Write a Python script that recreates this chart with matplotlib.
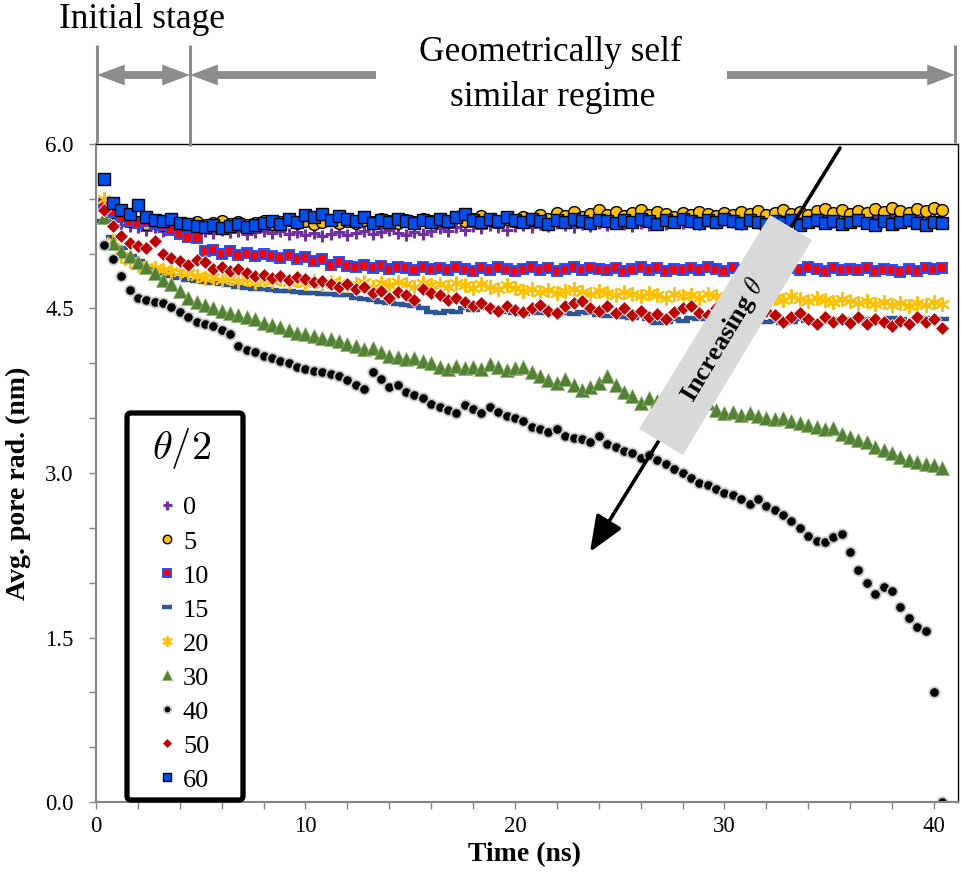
import numpy as np
import matplotlib
matplotlib.use("Agg")
import matplotlib.pyplot as plt
from matplotlib.patches import Polygon, FancyBboxPatch

plt.rcParams['font.family'] = 'Liberation Serif'
plt.rcParams['mathtext.fontset'] = 'cm'

# sampling times (ns)
t = np.round(np.arange(1, 102) * 0.4, 2)

# average pore radius (nm) for each half angle
r0 = [5.40, 5.30, 5.26, 5.25, 5.24, 5.22, 5.24, 5.21, 5.23, 5.22,
      5.20, 5.22, 5.21, 5.19, 5.22, 5.20, 5.21, 5.18, 5.20, 5.21,
      5.19, 5.21, 5.18, 5.20, 5.17, 5.19, 5.16, 5.18, 5.20, 5.17,
      5.19, 5.21, 5.18, 5.20, 5.22, 5.19, 5.17, 5.20, 5.18, 5.21,
      5.23, 5.21, 5.24, 5.22, 5.25, 5.23, 5.26, 5.24, 5.22, 5.25,
      5.26, 5.24, 5.27, 5.25, 5.28, 5.26, 5.24, 5.27, 5.25, 5.28,
      5.26, 5.29, 5.27, 5.25, 5.28, 5.26, 5.29, 5.27, 5.30, 5.28,
      5.29, 5.27, 5.30, 5.28, 5.31, 5.29, 5.27, 5.30, 5.28, 5.31,
      5.30, 5.32, 5.29, 5.31, 5.33, 5.30, 5.32, 5.29, 5.31, 5.33,
      5.32, 5.30, 5.33, 5.31, 5.34, 5.32, 5.30, 5.33, 5.31, 5.32,
      5.30]
r5 = [5.45, 5.38, 5.34, 5.30, 5.29, 5.27, 5.28, 5.26, 5.27, 5.25,
      5.27, 5.29, 5.26, 5.28, 5.30, 5.27, 5.29, 5.26, 5.28, 5.30,
      5.27, 5.29, 5.31, 5.28, 5.30, 5.27, 5.29, 5.31, 5.28, 5.30,
      5.28, 5.31, 5.29, 5.32, 5.30, 5.28, 5.31, 5.29, 5.32, 5.30,
      5.31, 5.29, 5.33, 5.30, 5.32, 5.34, 5.31, 5.29, 5.32, 5.30,
      5.33, 5.31, 5.35, 5.32, 5.37, 5.34, 5.38, 5.33, 5.36, 5.40,
      5.35, 5.38, 5.34, 5.37, 5.40, 5.35, 5.38, 5.36, 5.33, 5.37,
      5.35, 5.38, 5.36, 5.34, 5.37, 5.35, 5.38, 5.36, 5.39, 5.35,
      5.37, 5.40, 5.36, 5.38, 5.35, 5.39, 5.41, 5.37, 5.40, 5.36,
      5.39, 5.37, 5.41, 5.38, 5.42, 5.39, 5.37, 5.41, 5.39, 5.42,
      5.40]
r10 = [5.45, 5.38, 5.33, 5.30, 5.28, 5.30, 5.27, 5.26, 5.22, 5.18,
       5.15, 5.14, 5.02, 5.03, 5.00, 5.02, 4.99, 5.01, 4.98, 5.00,
       4.98, 4.96, 4.99, 4.95, 4.97, 4.93, 4.95, 4.90, 4.92, 4.89,
       4.88, 4.90, 4.87, 4.89, 4.86, 4.88, 4.87, 4.85, 4.88, 4.86,
       4.87, 4.85, 4.88, 4.86, 4.84, 4.87, 4.85, 4.88, 4.86, 4.84,
       4.86, 4.88, 4.85, 4.87, 4.84, 4.86, 4.88, 4.85, 4.87, 4.86,
       4.85, 4.87, 4.84, 4.86, 4.88, 4.85, 4.87, 4.84, 4.86, 4.85,
       4.87, 4.85, 4.88, 4.86, 4.84, 4.87, 4.85, 4.86, 4.88, 4.85,
       4.86, 4.84, 4.87, 4.85, 4.88, 4.86, 4.84, 4.87, 4.85, 4.86,
       4.85, 4.87, 4.84, 4.86, 4.85, 4.83, 4.86, 4.84, 4.87, 4.86,
       4.87]
r15 = [5.30, 5.15, 5.05, 4.98, 4.93, 4.88, 4.85, 4.82, 4.80, 4.78,
       4.76, 4.75, 4.74, 4.73, 4.72, 4.71, 4.70, 4.69, 4.68, 4.68,
       4.67, 4.66, 4.66, 4.65, 4.64, 4.64, 4.63, 4.63, 4.62, 4.62,
       4.60, 4.59, 4.58, 4.56, 4.55, 4.54, 4.53, 4.52, 4.50, 4.47,
       4.46, 4.48, 4.47, 4.50, 4.49, 4.51, 4.50, 4.48, 4.47, 4.46,
       4.45, 4.47, 4.46, 4.48, 4.47, 4.46, 4.45, 4.47, 4.46, 4.44,
       4.43, 4.44, 4.42, 4.41, 4.43, 4.40, 4.37, 4.38, 4.40, 4.39,
       4.41, 4.40, 4.42, 4.39, 4.40, 4.38, 4.41, 4.40, 4.39, 4.38,
       4.39, 4.37, 4.38, 4.40, 4.39, 4.37, 4.38, 4.39, 4.40, 4.38,
       4.39, 4.40, 4.38, 4.39, 4.41, 4.40, 4.39, 4.40, 4.41, 4.40,
       4.40]
r20 = [5.50, 5.12, 4.98, 4.93, 4.90, 4.88, 4.87, 4.85, 4.84, 4.83,
       4.82, 4.80, 4.78, 4.79, 4.76, 4.78, 4.75, 4.77, 4.74, 4.76,
       4.75, 4.77, 4.74, 4.76, 4.73, 4.75, 4.72, 4.74, 4.73, 4.71,
       4.72, 4.74, 4.70, 4.73, 4.71, 4.74, 4.72, 4.70, 4.73, 4.71,
       4.72, 4.70, 4.73, 4.71, 4.69, 4.72, 4.70, 4.68, 4.71, 4.69,
       4.66, 4.68, 4.65, 4.67, 4.64, 4.66, 4.68, 4.65, 4.63, 4.66,
       4.64, 4.62, 4.65, 4.63, 4.61, 4.64, 4.62, 4.60, 4.63, 4.61,
       4.62, 4.60, 4.63, 4.61, 4.59, 4.62, 4.60, 4.63, 4.61, 4.59,
       4.60, 4.58, 4.61, 4.59, 4.57, 4.60, 4.58, 4.56, 4.59, 4.57,
       4.55, 4.57, 4.54, 4.56, 4.53, 4.55, 4.52, 4.55, 4.53, 4.56,
       4.54]
r30 = [5.33, 5.10, 5.02, 4.98, 4.92, 4.88, 4.82, 4.76, 4.72, 4.66,
       4.60, 4.56, 4.53, 4.50, 4.48, 4.46, 4.44, 4.42, 4.40, 4.37,
       4.35, 4.33, 4.30, 4.28, 4.27, 4.25, 4.23, 4.22, 4.20, 4.18,
       4.16, 4.13, 4.14, 4.10, 4.07, 4.06, 4.04, 4.05, 4.02, 4.00,
       3.97, 3.95, 3.98, 3.96, 3.97, 3.95, 3.99, 3.97, 3.94, 3.96,
       3.97, 3.92, 3.88, 3.85, 3.82, 3.86, 3.80, 3.76, 3.78, 3.82,
       3.88, 3.80, 3.74, 3.70, 3.64, 3.68, 3.66, 3.62, 3.60, 3.58,
       3.62, 3.60, 3.64, 3.57, 3.55, 3.56, 3.53, 3.55, 3.52, 3.50,
       3.49, 3.50, 3.47, 3.46, 3.44, 3.42, 3.40, 3.41, 3.36, 3.33,
       3.30, 3.28, 3.24, 3.21, 3.18, 3.15, 3.12, 3.10, 3.08, 3.07,
       3.05]
r40 = [5.08, 4.95, 4.80, 4.67, 4.60, 4.58, 4.56, 4.55, 4.51, 4.47,
       4.42, 4.38, 4.36, 4.34, 4.30, 4.27, 4.16, 4.12, 4.10, 4.07,
       4.05, 4.02, 4.00, 3.97, 3.95, 3.93, 3.92, 3.90, 3.88, 3.85,
       3.80, 3.77, 3.92, 3.86, 3.78, 3.80, 3.74, 3.71, 3.68, 3.63,
       3.60, 3.57, 3.55, 3.62, 3.58, 3.55, 3.60, 3.56, 3.52, 3.50,
       3.47, 3.42, 3.40, 3.37, 3.40, 3.34, 3.32, 3.31, 3.28, 3.34,
       3.26, 3.24, 3.20, 3.18, 3.14, 3.16, 3.12, 3.08, 3.04, 3.00,
       2.95, 2.91, 2.89, 2.85, 2.82, 2.80, 2.76, 2.72, 2.76, 2.70,
       2.66, 2.62, 2.56, 2.50, 2.43, 2.38, 2.37, 2.42, 2.44, 2.28,
       2.12, 2.00, 1.90, 1.96, 1.92, 1.78, 1.68, 1.60, 1.56, 1.00,
       0.00]
r50 = [5.40, 5.25, 5.16, 5.10, 5.07, 5.05, 5.12, 5.00, 4.96, 4.93,
       4.90, 4.94, 4.92, 4.86, 4.88, 4.84, 4.86, 4.82, 4.80, 4.81,
       4.78, 4.80, 4.76, 4.79, 4.77, 4.74, 4.75, 4.72, 4.70, 4.72,
       4.68, 4.70, 4.64, 4.66, 4.60, 4.65, 4.62, 4.58, 4.68, 4.64,
       4.62, 4.58, 4.60, 4.56, 4.52, 4.55, 4.50, 4.48, 4.52, 4.49,
       4.47, 4.50, 4.53, 4.48, 4.46, 4.52, 4.55, 4.57, 4.50, 4.48,
       4.52, 4.46, 4.50, 4.44, 4.48, 4.42, 4.45, 4.40, 4.47, 4.50,
       4.52, 4.46, 4.44, 4.50, 4.42, 4.46, 4.40, 4.45, 4.42, 4.48,
       4.44, 4.38, 4.42, 4.46, 4.40, 4.36, 4.42, 4.38, 4.40, 4.37,
       4.42, 4.36, 4.40, 4.38, 4.34, 4.39, 4.36, 4.42, 4.38, 4.40,
       4.32]
r60 = [5.68, 5.46, 5.40, 5.36, 5.44, 5.33, 5.31, 5.30, 5.32, 5.28,
       5.27, 5.25, 5.24, 5.26, 5.23, 5.25, 5.27, 5.24, 5.26, 5.28,
       5.30, 5.27, 5.32, 5.29, 5.35, 5.33, 5.36, 5.31, 5.34, 5.32,
       5.30, 5.33, 5.28, 5.31, 5.29, 5.32, 5.30, 5.28, 5.31, 5.29,
       5.32, 5.30, 5.33, 5.36, 5.31, 5.29, 5.32, 5.30, 5.33, 5.31,
       5.29, 5.32, 5.30, 5.27, 5.31, 5.29, 5.32, 5.30, 5.28, 5.31,
       5.30, 5.28, 5.31, 5.29, 5.32, 5.30, 5.27, 5.31, 5.29, 5.32,
       5.30, 5.28, 5.31, 5.29, 5.32, 5.30, 5.28, 5.31, 5.29, 5.27,
       5.30, 5.28, 5.31, 5.26, 5.29, 5.31, 5.28, 5.30, 5.27, 5.29,
       5.31, 5.28, 5.26, 5.30, 5.27, 5.29, 5.31, 5.28, 5.26, 5.29,
       5.28]

labels = ['0', '5', '10', '15', '20', '30', '40', '50', '60']
series = [r0, r5, r10, r15, r20, r30, r40, r50, r60]

# marker styles (excel look)
styles = [
    dict(marker='+', ms=9, mew=2.2, color='#7030A0'),
    dict(marker='o', ms=8.5, mew=1.0, mfc='#FFC000', mec='black'),
    dict(marker='s', ms=7.5, mew=1.4, mfc='#FF0000', mec='#2050FF'),
    dict(marker='_', ms=10, mew=3.2, color='#2F5597'),
    dict(marker=(6, 2, 0), ms=10.5, mew=1.4, color='#FFC000'),
    dict(marker='^', ms=10, mew=0.5, mfc='#548235', mec='#8FB070'),
    dict(marker='o', ms=7.5, mew=1.3, mfc='black', mec='#C8C8C8'),
    dict(marker='D', ms=7.5, mew=0.6, mfc='#C00000', mec='white'),
    dict(marker='s', ms=8.5, mew=1.0, mfc='#0050F0', mec='black'),
]

fig = plt.figure(figsize=(9.61, 8.72), dpi=100)
ax = fig.add_axes([96/961, 70/872, 862/961, 658/872])

handles = []
for lab, y, st in zip(labels, series, styles):
    h, = ax.plot(t, y, linestyle='none', label=lab, **st)
    handles.append(h)

ax.set_xlim(0, 41.15)
ax.set_ylim(0, 6.0)
ax.set_xticks([0, 10, 20, 30, 40])
ax.set_xticks(np.arange(0, 41, 2), minor=True)
ax.set_yticks([0, 1.5, 3.0, 4.5, 6.0])
ax.set_yticklabels(['0.0', '1.5', '3.0', '4.5', '6.0'])
ax.set_yticks(np.arange(0, 6.01, 0.5), minor=True)
ax.tick_params(which='both', direction='out', length=5, width=1, color='#868686',
               labelsize=16.5)
ax.tick_params(axis='y', pad=11)
ax.tick_params(axis='x', pad=5)
for s in ['left', 'bottom']:
    ax.spines[s].set_color('#868686')
    ax.spines[s].set_linewidth(1.5)
for s in ['top', 'right']:
    ax.spines[s].set_color('black')
    ax.spines[s].set_linewidth(1.0)

fig.text(18/961, 1 - 483/872, 'Avg. pore rad. (nm)', rotation=90, fontsize=20,
         fontweight='bold', ha='center', va='center')
fig.text(524/961, 1 - 855/872, 'Time (ns)', fontsize=20, fontweight='bold',
         ha='center', va='center')

# overlay in pixel coordinates for annotations
ov = fig.add_axes([0, 0, 1, 1])
ov.set_xlim(0, 961)
ov.set_ylim(872, 0)
ov.axis('off')
ov.patch.set_alpha(0)

# legend (frame drawn separately)
ov.add_patch(FancyBboxPatch((127, 413), 116, 387,
                            boxstyle='round,pad=0,rounding_size=4',
                            fc='white', ec='black', lw=3.8, zorder=0.5))
leg = ov.legend(handles, labels, title=r'$\theta/2$', title_fontsize=29,
                fontsize=19, loc='upper left', bbox_to_anchor=(152, 426),
                bbox_transform=ov.transData, frameon=False,
                handlelength=1.0, handletextpad=0.1, labelspacing=0.40,
                borderpad=0.0, markerscale=0.72, borderaxespad=0.0)
leg._legend_box.sep = 18

gray = '#8C8C8C'
for xv, y1 in [(97, 143), (190, 146), (955, 143)]:
    ov.plot([xv, xv], [45, y1], color=gray, lw=2.2, solid_capstyle='butt')

arr = dict(arrowstyle='simple,head_length=1.0,head_width=0.75,tail_width=0.28',
           color=gray, mutation_scale=20, shrinkA=0, shrinkB=0, lw=0)
ov.annotate('', xy=(97, 75), xytext=(144, 75), arrowprops=arr)
ov.annotate('', xy=(190, 75), xytext=(143, 75), arrowprops=arr)
ov.annotate('', xy=(190, 75), xytext=(376, 75), arrowprops=arr)
ov.annotate('', xy=(955, 75), xytext=(727, 75), arrowprops=arr)

ov.text(142, 20, 'Initial stage', fontsize=25.5, ha='center', va='center')
ov.text(550, 52, 'Geometrically self', fontsize=25.5, ha='center', va='center')
ov.text(553, 98, 'similar regime', fontsize=25.5, ha='center', va='center')

# increasing theta arrow
ov.annotate('', xy=(590, 552), xytext=(840, 148),
            arrowprops=dict(arrowstyle='-|>,head_length=1.1,head_width=0.45',
                            color='black', lw=2.6, mutation_scale=20,
                            shrinkA=0, shrinkB=0))
ov.add_patch(Polygon([(770, 215), (812, 240), (683, 455), (639, 429)],
                     closed=True, fc='#D9D9D9', ec='none', zorder=3))
ov.text(722, 340, r'Increasing $\theta$', rotation=59, fontsize=19,
        fontweight='bold', ha='center', va='center', zorder=4,
        rotation_mode='anchor')

fig.savefig('out.png', dpi=100)
